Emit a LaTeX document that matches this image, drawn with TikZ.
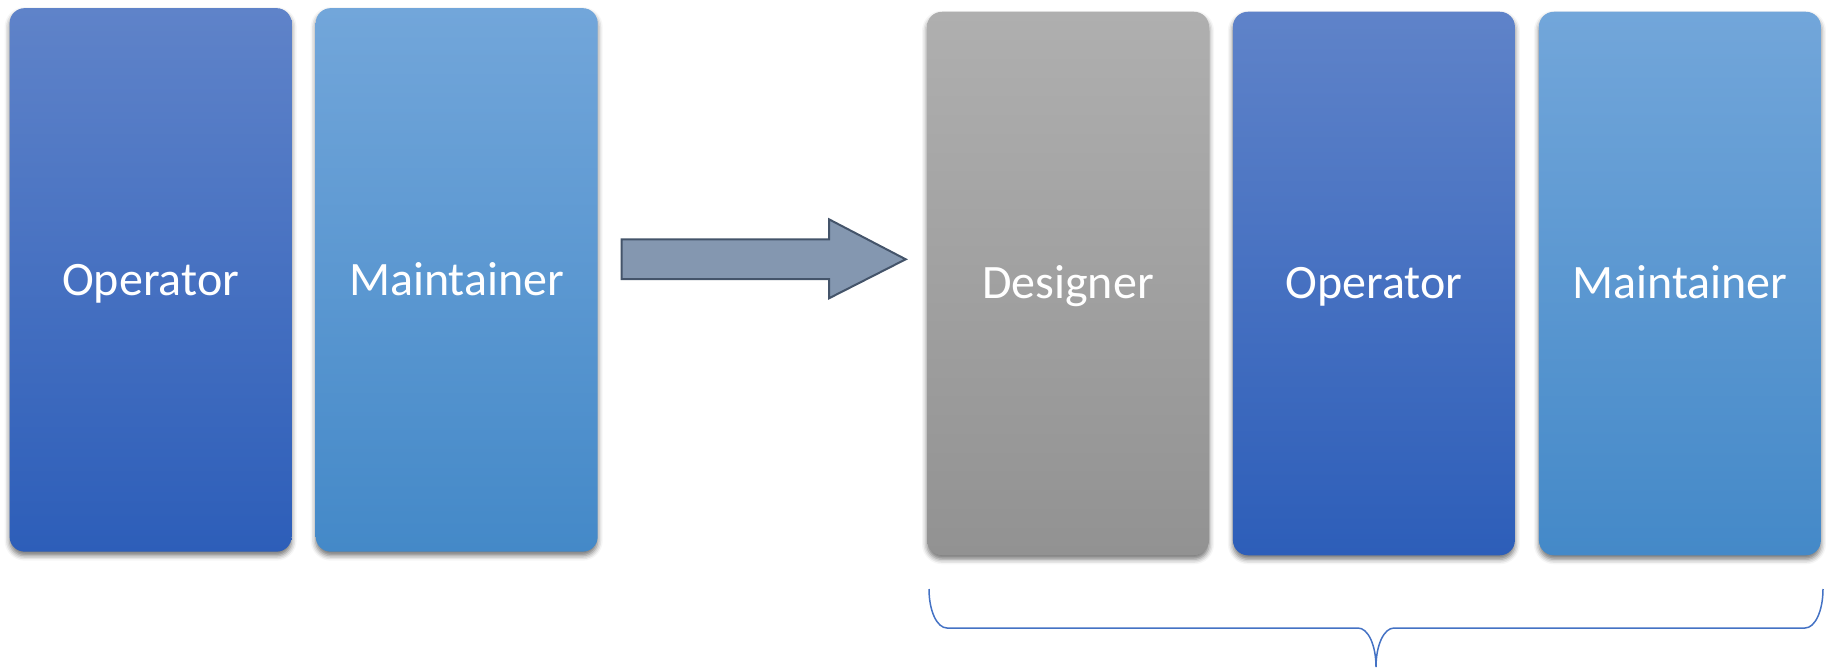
\documentclass[tikz,border=0pt]{standalone}
\usepackage{fontspec}
\setmainfont{Carlito}
\usetikzlibrary{shadows.blur}
\definecolor{opTop}{HTML}{5F83C9}
\definecolor{opBot}{HTML}{2D5EB9}
\definecolor{mtTop}{HTML}{72A6DA}
\definecolor{mtBot}{HTML}{4489C8}
\definecolor{dsTop}{HTML}{AFAFAF}
\definecolor{dsBot}{HTML}{929292}
\definecolor{arrFill}{HTML}{8497B0}
\definecolor{arrLine}{HTML}{44546A}
\definecolor{braceCol}{HTML}{4472C4}
\begin{document}
\begin{tikzpicture}[x=1pt,y=-1pt,
  card/.style={rectangle, rounded corners=15pt, minimum width=282pt, minimum height=543.5pt,
    inner sep=0pt, text=white, font=\fontsize{48}{57}\selectfont,
    text height=30.5pt, text depth=0pt,
    blur shadow={shadow xshift=0pt, shadow yshift=-4pt, shadow blur radius=5pt, shadow opacity=55}},
  opcard/.style={card, top color=opTop, bottom color=opBot},
  mtcard/.style={card, top color=mtTop, bottom color=mtBot},
  dscard/.style={card, top color=dsTop, bottom color=dsBot},
  bigarrow/.style={fill=arrFill, draw=arrLine, line width=2pt, line join=miter},
  bracestyle/.style={draw=braceCol, line width=1.5pt}
]
\useasboundingbox (0,0) rectangle (1829,669);

\node[opcard] (op1) at (150.6,279.9) {Operator};
\node[mtcard] (mt1) at (456.7,279.9) {Maintainer};

\node[dscard] (ds2) at (1068,283.5) {Designer};
\node[opcard] (op2) at (1373.9,283.5) {Operator};
\node[mtcard] (mt2) at (1679.9,283.5) {Maintainer};

\draw[bigarrow] (621.7,239.3) -- (829,239.3) -- (829,219.3) -- (905.7,259.3)
  -- (829,298.3) -- (829,279) -- (621.7,279) -- cycle;

\coordinate (bl) at (929,589);
\coordinate (br) at (1823,589);
\coordinate (bt) at (1376,667);
\draw[bracestyle] (bl) .. controls (929,611) and (937,628) .. (947,628) -- (1358,628)
  .. controls (1368,628) and (1376,645) .. (bt)
  .. controls (1376,645) and (1384,628) .. (1394,628) -- (1805,628)
  .. controls (1815,628) and (1823,611) .. (br);
\end{tikzpicture}
\end{document}
